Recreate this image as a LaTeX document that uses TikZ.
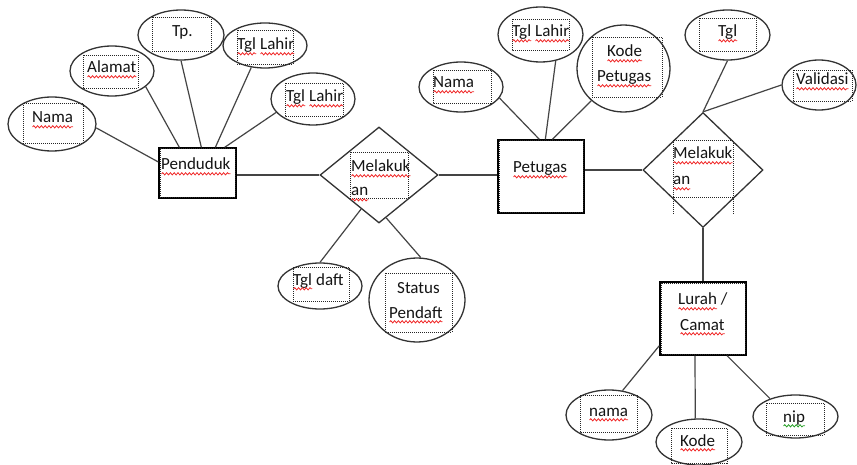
\documentclass[tikz,border=0pt]{standalone}
\usepackage{fontspec}
\setmainfont{Carlito}
\usetikzlibrary{shapes.geometric,calc,decorations.pathmorphing}
\definecolor{spellred}{HTML}{F02828}
\definecolor{spellgreen}{HTML}{28A028}
\definecolor{edgegray}{HTML}{333333}
\definecolor{linegray}{HTML}{444444}
% wavy spelling marks under words
\newsavebox\wvbox
\newlength\wvlen
\newcommand\wavemark[2]{\sbox\wvbox{#2}\setlength\wvlen{\wd\wvbox}%
  \rlap{\usebox\wvbox}%
  \tikz[baseline=0pt]\draw[#1, line width=0.8pt, line cap=round, decorate,
    decoration={snake, amplitude=1.1pt, segment length=3.8pt}]
    (0.3pt,-3.8pt) -- (\wvlen-0.3pt,-3.8pt);}
\newcommand\rwave[1]{\wavemark{spellred}{#1}}
\newcommand\gwave[1]{\wavemark{spellgreen}{#1}}
\begin{document}
\begin{tikzpicture}[x=1pt,y=-1pt,
  every node/.style={font=\fontsize{17}{25}\selectfont},
  attr/.style 2 args={ellipse, draw=edgegray, line width=1.3pt, inner sep=0pt,
    minimum width=#1, minimum height=#2},
  entity/.style 2 args={rectangle, draw=black, line width=1.3pt, inner sep=0pt,
    minimum width=#1, minimum height=#2},
  rel/.style 2 args={diamond, draw=edgegray, line width=1.3pt, inner sep=0pt,
    minimum width=#1, minimum height=#2},
  tbox/.style={draw=black!85, line width=0.9pt, dash pattern=on 1pt off 1pt},
  conn/.style={draw=linegray, line width=1.2pt},
  lbl/.style={anchor=base west, inner sep=0pt, text=black!92}]

\fill[white] (0,0) rectangle (857,465);
\useasboundingbox (0,0) rectangle (857,465);

% ---------- Penduduk ----------
\node[entity={77pt}{50pt}] (pend) at (197.5,173) {};
\draw[tbox] ($(pend.north west)+(1.6,1.6)$) rectangle ($(pend.south east)+(-1.6,-1.6)$);
\node[attr={88pt}{54pt}] (nama1) at (52,124) {};
\node[attr={84pt}{50pt}] (alamat) at (112,71) {};
\node[attr={86pt}{50pt}] (tp) at (181,35) {};
\node[attr={84pt}{45pt}] (lahir1) at (265,45.5) {};
\node[attr={84pt}{52pt}] (lahir2) at (313,99) {};

\draw[tbox] (23,103) rectangle (83,143);
\draw[tbox] (83,55) rectangle (138,88);
\draw[tbox] (152,17) rectangle (211,51);
\draw[tbox] (237,30) rectangle (293,64);
\draw[tbox] (285,83) rectangle (343,116);

\node[lbl] (tnama1) at (32,123) {\rwave{Nama}};
\node[lbl] (talamat) at (87,73) {\rwave{Alamat}};
\node[lbl] (ttp) at (172,37) {Tp.};
\node[lbl] (tlahir1) at (237,50) {\rwave{Tgl} \rwave{Lahir}};
\node[lbl] (tlahir2) at (286,102) {\rwave{Tgl} \rwave{Lahir}};
\node[lbl] (tpend) at (161,170) {\rwave{Penduduk}};

% ---------- first relationship ----------
\node[rel={118pt}{96pt}] (d1) at (379,175) {};
\draw[tbox] (350,152) rectangle (408,198);
\node[lbl] (td1a) at (351,172) {\rwave{Melakuk}};
\node[lbl] (td1b) at (351,196) {\rwave{an}};

\node[attr={84pt}{46pt}] (tgldaft) at (320,286) {};
\draw[tbox] (293,267) rectangle (349,301);
\node[lbl] (ttgldaft) at (293,285) {\rwave{Tgl} daft};

\node[attr={96pt}{84pt}] (status) at (417,300) {};
\draw[tbox] (385,273) rectangle (452,332);
\node[lbl] (tstatus) at (397,293) {Status};
\node[lbl] (tpendaft) at (389,318) {\rwave{Pendaft}};

% ---------- Petugas ----------
\node[entity={86pt}{73pt}] (pet) at (541,176.5) {};
\draw[tbox] ($(pet.north west)+(1.6,1.6)$) rectangle ($(pet.south east)+(-1.6,-1.6)$);
\node[lbl] (tpet) at (513,173) {\rwave{Petugas}};

\node[attr={84pt}{50pt}] (nama2) at (461,87) {};
\draw[tbox] (433,70) rectangle (491,103);
\node[lbl] (tnama2) at (433,88) {\rwave{Nama}};

\node[attr={85pt}{55pt}] (lahirp) at (540.5,34.5) {};
\draw[tbox] (512,19) rectangle (569,50);
\node[lbl] (tlahirp) at (512,37) {\rwave{Tgl} \rwave{Lahir}};

\node[attr={93pt}{87pt}] (kode) at (623.5,68.5) {};
\draw[tbox] (592,37) rectangle (662,97);
\node[lbl] (tkode) at (607,57) {\rwave{Kode}};
\node[lbl] (tkodep) at (597,82) {\rwave{Petugas}};

% ---------- second relationship ----------
\node[rel={120pt}{115pt}] (d2) at (703,170) {};
\draw[tbox] (673,140) rectangle (733,197);
\draw[tbox] (673,197) -- (673,215);
\draw[tbox] (733,197) -- (733,215);
\node[lbl] (td2a) at (673,159) {\rwave{Melakuk}};
\node[lbl] (td2b) at (673,185) {\rwave{an}};

\node[attr={85pt}{50pt}] (tgl) at (727.5,35) {};
\draw[tbox] (699,18) rectangle (756,51);
\node[lbl] (ttgl) at (718,37) {\rwave{Tgl}};

\node[attr={74pt}{50pt}] (val) at (819,85) {};
\draw[tbox] (793,70) rectangle (852,101);
\node[lbl] (tval) at (796,85) {\rwave{Validasi}};

% ---------- Lurah / Camat ----------
\node[entity={86pt}{73pt}] (lurah) at (703,318.5) {};
\draw[tbox] ($(lurah.north west)+(1.6,1.6)$) rectangle ($(lurah.south east)+(-1.6,-1.6)$);
\node[lbl] (tlurah) at (678,305) {\rwave{Lurah} /};
\node[lbl] (tcamat) at (680,330) {\rwave{Camat}};

\node[attr={86pt}{50pt}] (nama3) at (609,415) {};
\draw[tbox] (580,395) rectangle (637,432);
\node[lbl] (tnama3) at (589,416) {\rwave{nama}};

\node[attr={86pt}{46pt}] (kode3) at (699,442) {};
\draw[tbox] (671,428) rectangle (727,463);
\node[lbl] (tkode3) at (680,446) {\rwave{Kode}};

\node[attr={85pt}{43pt}] (nip) at (795.5,416.5) {};
\draw[tbox] (766,403) rectangle (824,435);
\node[lbl] (tnip) at (783,422) {\gwave{nip}};

% ---------- connectors ----------
\draw[conn] (nama1.-5) -- ([yshift=11pt]pend.west);
\draw[conn] (alamat.-25) -- ([xshift=21pt]pend.north west);
\draw[conn] (tp.south) -- ([xshift=43pt]pend.north west);
\draw[conn] (lahir1.-122) -- ([xshift=57pt]pend.north west);
\draw[conn] (lahir2.-160) -- ([xshift=-12pt]pend.north east);
\draw[conn] (pend.east |- d1.west) -- (d1.west);
\draw[conn] ($(d1.west)!0.7!(d1.south)$) -- (tgldaft.north);
\draw[conn] ($(d1.south)!0.12!(d1.east)$) -- (status.85);
\draw[conn] (d1.east) -- (pet.west |- d1.east);
\draw[conn] (nama2.-16) -- ([xshift=42pt]pet.north west);
\draw[conn] (lahirp.-60) -- ([xshift=48pt]pet.north west);
\draw[conn] (kode.-135) -- ([xshift=55pt]pet.north west);
\draw[conn] (pet.east |- d2.west) -- (d2.west);
\draw[conn] (d2.north) -- (tgl.south);
\draw[conn] (d2.north) -- (val.west);
\draw[conn] (d2.south) -- (lurah.north);
\draw[conn] ([yshift=10pt]lurah.south west) -- (nama3.61);
\draw[conn] ([xshift=-8pt]lurah.south) -- (kode3.99);
\draw[conn] ([xshift=24pt]lurah.south) -- (nip.145);
\end{tikzpicture}
\end{document}
